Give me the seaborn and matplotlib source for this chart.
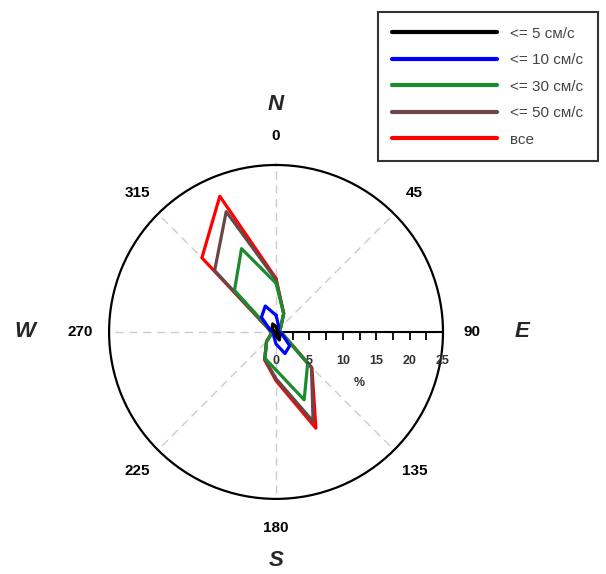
import numpy as np
import pandas as pd
import seaborn as sns
import matplotlib.pyplot as plt
from matplotlib.lines import Line2D

# directions (degrees, clockwise from north), 16 sectors
directions = [0, 22.5, 45, 67.5, 90, 112.5, 135, 157.5,
              180, 202.5, 225, 247.5, 270, 292.5, 315, 337.5]

# cumulative frequency, %
le5 = [0.8, 0.4, 0.2, 0.2, 0.2, 0.3, 0.8, 1.3, 0.6, 0.3, 0.2, 0.2, 0.2, 0.3, 0.8, 1.3]
le10 = [2.5, 1.0, 0.5, 0.4, 0.5, 1.0, 2.9, 3.5, 1.8, 0.8, 0.5, 0.4, 0.5, 1.0, 3.1, 4.2]
le30 = [7.3, 3.0, 1.0, 0.6, 0.6, 1.2, 6.7, 11.0, 5.7, 4.3, 2.0, 0.7, 0.7, 1.0, 8.8, 13.5]
le50 = [7.8, 3.0, 1.0, 0.6, 0.6, 1.2, 7.5, 14.5, 7.0, 4.4, 2.0, 0.8, 0.8, 1.2, 13.0, 19.5]
all_ = [8.0, 3.0, 1.0, 0.6, 0.6, 1.2, 7.6, 15.6, 7.3, 4.5, 2.0, 0.8, 0.8, 1.2, 15.7, 22.0]

labels = ["<= 5 см/с", "<= 10 см/с", "<= 30 см/с", "<= 50 см/с", "все"]
series = [le5, le10, le30, le50, all_]
colors = ["#000000", "#0000ff", "#1a8c2e", "#6a4646", "#ff0000"]

rows = []
for lab, vals in zip(labels, series):
    th = np.deg2rad(directions + [360])
    rr = vals + [vals[0]]
    for t, r in zip(th, rr):
        rows.append({"theta": t, "r": r, "class": lab})
df = pd.DataFrame(rows)

sns.set_style("white")
plt.rcParams["font.family"] = ["Liberation Sans", "DejaVu Sans"]

fig = plt.figure(figsize=(6.06, 5.74), dpi=100)
ax = fig.add_axes([0.180, 0.1307, 0.551, 0.582], projection="polar")
ax.set_theta_zero_location("N")
ax.set_theta_direction(-1)
ax.set_ylim(0, 25)

sns.lineplot(data=df, x="theta", y="r", hue="class", hue_order=labels[::-1],
             palette=dict(zip(labels, colors)), sort=False, estimator=None,
             linewidth=2.3, ax=ax, legend=False)
ax.set_xlabel("")
ax.set_ylabel("")

# angular ticks / grid
ax.set_xticks(np.deg2rad(np.arange(0, 360, 45)))
ax.set_xticklabels([str(a) for a in range(0, 360, 45)], fontsize=11, fontweight="bold")
ax.set_xticks(np.deg2rad(np.arange(22.5, 360, 45)), minor=True)
ax.tick_params(axis="x", which="both", direction="in", length=8, width=1.2, colors="k", pad=14)
ax.xaxis.grid(True, which="major", linestyle=(0, (6, 4)), color="#cccccc", linewidth=1)
ax.yaxis.grid(False)
ax.set_yticks([])
ax.spines["polar"].set_linewidth(1.6)
ax.spines["polar"].set_color("k")

# radial scale along east
ax.plot([np.pi / 2, np.pi / 2], [0, 25], color="k", linewidth=1.5, zorder=1)
rt = np.arange(2.5, 25, 2.5)
ax.plot(np.full(len(rt), np.pi / 2), rt, ls="", marker=3, ms=6, mew=1.3, color="k", zorder=1)
for v in range(0, 30, 5):
    ax.annotate(str(v), (np.pi / 2, v), xytext=(0, -21), textcoords="offset points",
                ha="center", va="center", fontsize=9, fontweight="bold", color="#333333",
                annotation_clip=False)
ax.annotate("%", (np.pi / 2, 12.5), xytext=(0, -37), textcoords="offset points",
            ha="center", va="center", fontsize=9, fontweight="bold", color="#333333",
            annotation_clip=False)

# compass letters
for txt, ang, rad in [("N", 0, 34), ("E", 90, 36.8), ("S", 180, 34.2), ("W", 270, 37.6)]:
    ax.text(np.deg2rad(ang), rad, txt, ha="center", va="center", fontsize=16,
            fontweight="bold", fontstyle="italic", clip_on=False)

handles = [Line2D([], [], color=c, linewidth=3) for c in colors]
leg = fig.legend(handles, labels, loc="upper right", bbox_to_anchor=(0.987, 0.979),
                 borderaxespad=0, fontsize=11, handlelength=6.9, handletextpad=0.85,
                 labelspacing=0.82, borderpad=0.95, fancybox=False,
                 edgecolor="#333333", framealpha=1)
leg.get_frame().set_linewidth(1.5)
for t in leg.get_texts():
    t.set_color("#444444")

fig.savefig("out.png", dpi=100)
